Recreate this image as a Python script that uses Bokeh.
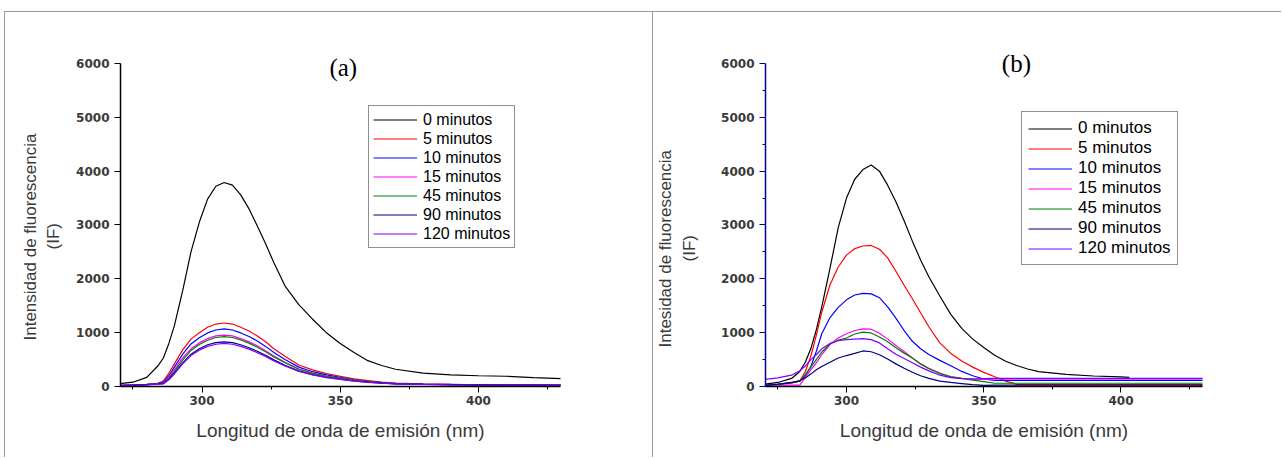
from bokeh.plotting import figure
from bokeh.layouts import row
from bokeh.models import Range1d, Legend, LegendItem, Label, FixedTicker, Title, LinearAxis
from bokeh.embed import file_html
from bokeh.resources import INLINE

# ---------------- data: panel (a) ----------------
xa = [270, 275, 280, 284, 286, 288, 290, 293, 296, 299, 302, 305, 308, 311, 314, 317,
      320, 323, 326, 330, 335, 340, 345, 350, 355, 360, 365, 370, 380, 390, 400, 410, 420, 430]
a0 = [50, 80, 170, 380, 530, 800, 1130, 1780, 2500, 3050, 3480, 3720, 3790, 3740, 3560, 3300,
      2980, 2650, 2300, 1870, 1520, 1250, 1000, 800, 630, 480, 390, 320, 250, 215, 200, 190, 165, 145]
a5 = [20, 30, 40, 60, 100, 250, 420, 680, 880, 1000, 1100, 1160, 1180, 1160, 1100, 1030,
      940, 830, 700, 560, 400, 310, 240, 190, 140, 110, 80, 65, 50, 40, 35, 30, 28, 25]
a10 = [20, 28, 38, 55, 80, 200, 360, 600, 790, 905, 995, 1050, 1070, 1050, 995, 930,
       845, 745, 630, 500, 360, 275, 215, 170, 125, 95, 72, 58, 45, 38, 32, 28, 26, 24]
a15 = [18, 26, 36, 50, 70, 170, 310, 530, 700, 810, 890, 940, 955, 940, 890, 830,
       755, 665, 565, 450, 325, 250, 195, 155, 115, 90, 68, 55, 42, 36, 32, 28, 26, 24]
a45 = [18, 26, 35, 48, 60, 150, 280, 490, 670, 780, 860, 910, 925, 910, 865, 805,
       730, 645, 550, 440, 320, 245, 190, 150, 112, 88, 66, 54, 42, 36, 32, 28, 26, 24]
a90 = [18, 25, 34, 46, 55, 135, 250, 440, 600, 700, 775, 815, 830, 815, 775, 720,
       655, 580, 495, 395, 290, 222, 172, 135, 102, 80, 62, 50, 40, 34, 30, 27, 25, 23]
a120 = [16, 24, 32, 44, 50, 125, 235, 420, 575, 675, 745, 785, 800, 785, 745, 695,
        630, 560, 475, 380, 280, 215, 165, 130, 100, 78, 60, 48, 38, 32, 28, 26, 24, 22]

# ---------------- data: panel (b) ----------------
xb0 = [270, 275, 280, 283, 285, 287, 289, 291, 294, 297, 300, 303, 306, 309, 312, 315, 318,
       321, 324, 327, 330, 334, 338, 342, 346, 350, 354, 358, 362, 366, 370, 380, 390, 400, 403]
b0 = [40, 75, 150, 280, 450, 700, 1050, 1480, 2200, 2950, 3500, 3850, 4030, 4115, 4000, 3740, 3430,
      3080, 2700, 2350, 2040, 1680, 1340, 1080, 880, 725, 580, 470, 390, 325, 275, 225, 195, 178, 170]
xb = [270, 275, 280, 283, 285, 287, 289, 291, 294, 297, 300, 303, 306, 309, 312, 315, 318,
      321, 324, 327, 330, 334, 338, 342, 346, 350, 354, 358, 362, 366, 370, 380, 390, 400, 410, 420, 430]
b5 = [30, 40, 60, 100, 280, 560, 950, 1380, 1890, 2220, 2440, 2560, 2610, 2620, 2550, 2390, 2140,
      1880, 1630, 1370, 1110, 810, 615, 475, 360, 262, 180, 100, 40, 35, 35, 35, 35, 35, 35, 35, 35]
b10 = [30, 45, 70, 100, 200, 370, 650, 980, 1280, 1470, 1610, 1700, 1730, 1720, 1650, 1480, 1270,
       1040, 840, 700, 595, 485, 385, 280, 200, 140, 112, 112, 112, 112, 112, 112, 112, 112, 112, 112, 112]
b15 = [40, 25, 25, 25, 170, 310, 440, 590, 780, 900, 980, 1040, 1070, 1065, 990, 880, 760,
       650, 530, 420, 340, 250, 175, 150, 135, 130, 140, 140, 140, 140, 140, 140, 140, 140, 140, 140, 140]
b45 = [20, 40, 75, 100, 220, 360, 500, 640, 790, 860, 900, 975, 1010, 995, 920, 830, 720,
       620, 530, 420, 330, 240, 185, 150, 120, 90, 60, 60, 60, 60, 60, 60, 60, 60, 60, 60, 60]
b90 = [20, 40, 75, 110, 160, 230, 310, 370, 450, 530, 575, 615, 660, 645, 590, 510, 420,
       340, 265, 200, 150, 100, 75, 55, 35, 20, 25, 25, 25, 25, 25, 25, 25, 25, 25, 25, 25]
b120 = [130, 160, 210, 290, 380, 500, 590, 700, 800, 850, 870, 880, 890, 870, 810, 700, 600,
        520, 440, 360, 290, 210, 165, 145, 140, 145, 150, 150, 150, 150, 150, 150, 150, 150, 150, 150, 150]

labels = ["0 minutos", "5 minutos", "10 minutos", "15 minutos", "45 minutos", "90 minutos", "120 minutos"]
colors = ["#000000", "#ff0000", "#0000ff", "#ff00ff", "#008000", "#000080", "#8000ff"]

x_ticks = [300, 350, 400]
x_minor = [275, 325, 375, 425]
y_ticks = [0, 1000, 2000, 3000, 4000, 5000, 6000]
y_minor_b = [500, 1500, 2500, 3500, 4500, 5500]

SANS = "Liberation Sans"
SERIF = "Liberation Serif"
TICKFONT = "DejaVu Sans"


def make_panel(width, mleft, mright, margin, series, ylabel1, ylabel2, yaxis_color, yminor,
               spacer_w, off1, off2, s1, s2,
               legend_loc, legend_font, legend_row, legend_pad,
               title_text, title_xy):
    p = figure(width=width, height=446, margin=margin,
               x_range=Range1d(270.5, 429.7), y_range=Range1d(0, 6613),
               output_backend="svg", toolbar_location=None,
               min_border_left=mleft, min_border_right=mright,
               min_border_top=18, min_border_bottom=72)
    p.styles = {"border-top": "1px solid #9a9a9a", "border-left": "1px solid #9a9a9a"}
    p.outline_line_color = None
    p.grid.visible = False
    p.background_fill_color = "white"
    p.border_fill_color = "white"

    items = []
    for (xs, ys), lab, col in zip(series, labels, colors):
        r = p.line(xs, ys, line_color=col, line_width=1.2)
        items.append(LegendItem(label=lab, renderers=[r]))

    leg = Legend(items=items, location=legend_loc, margin=0, spacing=0,
                 padding=legend_pad, label_height=legend_row, glyph_height=legend_row,
                 glyph_width=44, label_standoff=6,
                 label_text_font=SANS, label_text_font_size=legend_font,
                 label_text_color="#000000",
                 border_line_color="#202020", border_line_width=1.2,
                 background_fill_alpha=1.0)
    p.add_layout(leg)

    for ax in (p.xaxis[0], p.yaxis[0]):
        ax.major_label_text_font = TICKFONT
        ax.major_label_text_font_size = "12px"
        ax.major_label_text_font_style = "bold"
        ax.major_label_text_color = "#3a3a3a"
        ax.major_tick_in = 0
        ax.major_tick_out = 6
        ax.minor_tick_in = 0
        ax.minor_tick_out = 3
        ax.axis_line_width = 1.5

    xax = p.xaxis[0]
    xax.ticker = FixedTicker(ticks=x_ticks, minor_ticks=x_minor)
    xax.axis_label = "Longitud de onda de emisión (nm)"
    xax.axis_label_text_font = SANS
    xax.axis_label_text_font_style = "normal"
    xax.axis_label_text_color = "#3a3a3a"
    xax.axis_label_text_font_size = "19px"
    xax.axis_label_standoff = 12
    xax.major_label_standoff = 3
    xax.axis_line_color = "#000000"

    yax = p.yaxis[0]
    yax.ticker = FixedTicker(ticks=y_ticks, minor_ticks=yminor)
    yax.bounds = (0, 6000)
    yax.major_label_standoff = 5
    yax.axis_line_color = yaxis_color
    yax.major_tick_line_color = yaxis_color
    yax.minor_tick_line_color = yaxis_color

    # invisible spacer axis: leaves room between tick labels and the y title
    spacer = LinearAxis(ticker=FixedTicker(ticks=[3000], minor_ticks=[]),
                        major_label_overrides={3000: ""},
                        major_tick_out=spacer_w, major_tick_in=0, minor_tick_out=0,
                        major_label_standoff=0, axis_line_color=None,
                        major_tick_line_color=None, minor_tick_line_color=None)
    p.add_layout(spacer, "left")

    # y-axis title, two lines, each centred on its own position
    p.add_layout(Title(text=ylabel2, align="left", offset=off2, standoff=s1,
                       vertical_align="bottom", text_font=SANS, text_font_size="17px",
                       text_font_style="normal", text_color="#3a3a3a"), "left")
    p.add_layout(Title(text=ylabel1, align="left", offset=off1, standoff=s2,
                       vertical_align="bottom", text_font=SANS, text_font_size="17px",
                       text_font_style="normal", text_color="#3a3a3a"), "left")

    p.add_layout(Label(x=title_xy[0], y=title_xy[1], text=title_text,
                       text_font=SERIF, text_font_size="25px",
                       text_align="center", text_baseline="middle",
                       text_color="#000000"))
    return p


series_a = [(xa, a0), (xa, a5), (xa, a10), (xa, a15), (xa, a45), (xa, a90), (xa, a120)]
series_b = [(xb0, b0), (xb, b5), (xb, b10), (xb, b15), (xb, b45), (xb, b90), (xb, b120)]

pa = make_panel(648, 115, 93, (11, 0, 0, 4), series_a,
                "Intensidad de fluorescencia", "(IF)", "#000000", [],
                9, 46, 137, 4, 0,
                (248, 138), "16px", 19, 4, "(a)", (351.1, 5926))
pb = make_panel(629, 112, 80, (11, 0, 0, 0), series_b,
                "Intesidad de fluorescencia", "(IF)", "#00008b", y_minor_b,
                17, 39, 125, 6, 0,
                (256, 121), "17px", 19, 6, "(b)", (361.9, 6000))

layout = row(pa, pb)
open("out.html", "w").write(file_html(layout, INLINE))
